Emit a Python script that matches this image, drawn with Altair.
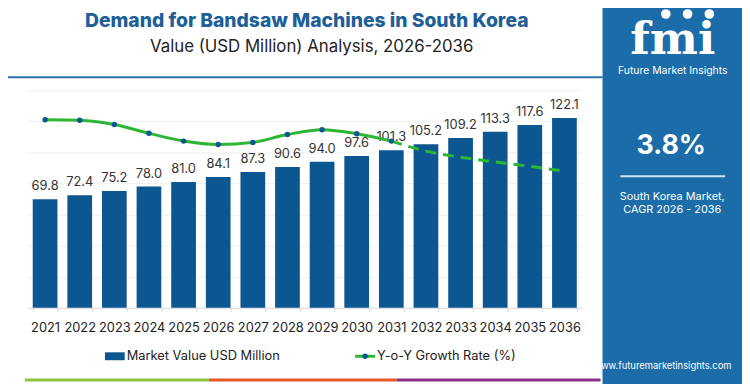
import altair as alt
import pandas as pd

years = [str(y) for y in range(2021, 2037)]
market_value = [69.8, 72.4, 75.2, 78.0, 81.0, 84.1, 87.3, 90.6, 94.0, 97.6,
                101.3, 105.2, 109.2, 113.3, 117.6, 122.1]
yoy_growth = [4.32, 4.31, 4.21, 4.01, 3.83, 3.75, 3.80, 3.98, 4.09, 4.00,
              3.83, 3.60, 3.46, 3.35, 3.25, 3.14]
grid_values = [0, 20, 40, 60, 80, 100, 120, 140]

BAR = "#0c5791"
PANEL = "#1b6ca8"
GREEN = "#2db534"
FONT = "Inter"

df = pd.DataFrame({"year": years, "value": market_value, "growth": yoy_growth})
solid = df.iloc[0:11]
dashed = df.iloc[10:16]
one = pd.DataFrame({"k": [0]})

xenc = alt.X("year:O", title=None,
             scale=alt.Scale(paddingInner=0.286, paddingOuter=0.143),
             axis=alt.Axis(labelAngle=0, labelFontSize=13, labelColor="#222",
                           labelFont=FONT, domainColor="#d9d9d9", tickColor="#d9d9d9",
                           tickSize=4, tickBand="extent", labelPadding=10))

ybar = alt.Y("value:Q", title=None, scale=alt.Scale(domain=[0, 140], nice=False),
             axis=alt.Axis(labels=False, ticks=False, domain=False, grid=True,
                           gridColor="#efefef", values=grid_values))

bars = alt.Chart(df).mark_bar(color=BAR).encode(x=xenc, y=ybar)
labels = alt.Chart(df).mark_text(baseline="bottom", dy=-6, fontSize=13, font=FONT,
                                 color="#333").encode(
    x=xenc, y=ybar, text=alt.Text("value:Q", format=".1f"))
bar_layer = alt.layer(bars, labels)

yline = alt.Y("growth:Q", title=None, scale=alt.Scale(domain=[0, 5], nice=False), axis=None)
line_solid = alt.Chart(solid).mark_line(color=GREEN, strokeWidth=3, interpolate="monotone").encode(x=xenc, y=yline)
line_dash = alt.Chart(dashed).mark_line(color=GREEN, strokeWidth=3, interpolate="monotone",
                                        strokeDash=[11, 7]).encode(x=xenc, y=yline)
pts = alt.Chart(solid).mark_circle(color=BAR, size=30, opacity=1).encode(x=xenc, y=yline)
line_layer = alt.layer(line_solid, line_dash, pts)


def txt(s, x, y, size, color="#222", weight="normal", align="center", font=FONT,
        baseline="middle"):
    return alt.Chart(one).mark_text(align=align, baseline=baseline, fontSize=size,
                                    fontWeight=weight, color=color, font=font).encode(
        x=alt.value(x), y=alt.value(y), text=alt.value(s))


def rule(x1, x2, y, color, w):
    return alt.Chart(one).mark_rule(color=color, strokeWidth=w).encode(
        x=alt.value(x1), x2=alt.value(x2), y=alt.value(y))


def dot(x, y, size, color):
    return alt.Chart(one).mark_circle(color=color, size=size, opacity=1).encode(
        x=alt.value(x), y=alt.value(y))


deco = [
    alt.Chart(one).mark_rect(color=PANEL).encode(
        x=alt.value(581), x2=alt.value(722), y=alt.value(-89), y2=alt.value(297)),
    txt("Demand for Bandsaw Machines in South Korea", 282, -70, 19.5, "#1d5f97", 800),
    txt("Value (USD Million) Analysis, 2026-2036", 287, -44, 17, "#222"),
    rule(-28, 581, -13, "#2a6faa", 2),
    rule(-3, 183, 293, "#8cc63f", 3),
    rule(183, 373, 293, "#e8562a", 3),
    rule(373, 579, 293, "#8b2e8b", 3),
    # legend
    alt.Chart(one).mark_rect(color=BAR).encode(
        x=alt.value(78), x2=alt.value(98), y=alt.value(265), y2=alt.value(273)),
    txt("Market Value USD Million", 100, 269, 13, "#222", align="left"),
    rule(331, 351, 269, GREEN, 3),
    dot(341, 269, 30, BAR),
    txt("Y-o-Y Growth Rate (%)", 353, 269, 13, "#222", align="left"),
    # right panel
    txt("fmi", 652, -27, 46, "white", "bold", font="DejaVu Serif", baseline="bottom"),
    dot(645, -77, 95, "white"),
    dot(667, -77, 95, "white"),
    dot(689, -77, 95, "white"),
    txt("Future Market Insights", 652, -19, 10.5, "white"),
    txt("3.8%", 650.5, 57, 27, "white", "bold"),
    rule(599, 705, 87, "#cfe3f5", 2),
    txt("South Korea Market,", 651.5, 108, 11, "white"),
    txt("CAGR 2026 - 2036", 651.5, 121, 11, "white"),
    txt("www.futuremarketinsights.com", 641.5, 279, 9.5, "white"),
]

chart = alt.layer(*deco, bar_layer, line_layer).resolve_scale(y="independent").properties(
    width=560, height=220,
    autosize=alt.AutoSizeParams(type="none"),
    padding={"left": 20, "top": 81, "right": 162, "bottom": 77},
    background="white",
).configure_view(stroke=None)

chart.save("out.html", embed_options={"renderer": "svg", "actions": False})
